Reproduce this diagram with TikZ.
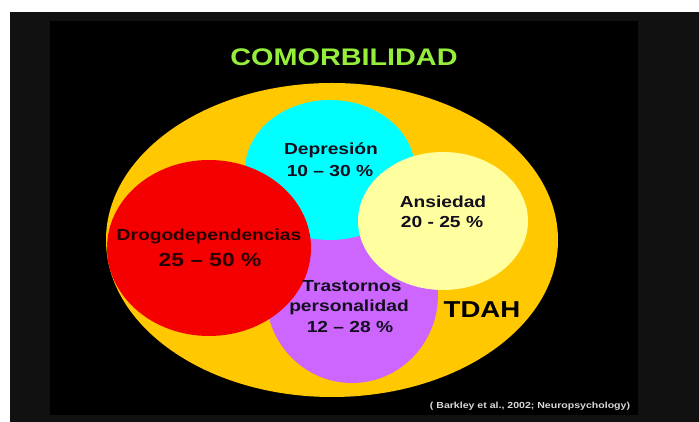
\documentclass[tikz,border=0pt]{standalone}
\usepackage{fontspec}
\setmainfont{Liberation Sans}
\usepackage{xcolor}
\usetikzlibrary{positioning}

\definecolor{framegray}{RGB}{17,17,17}
\definecolor{tdahyellow}{RGB}{255,200,0}
\definecolor{deprcyan}{RGB}{0,255,255}
\definecolor{drogored}{RGB}{245,0,0}
\definecolor{persviolet}{RGB}{204,102,255}
\definecolor{ansipale}{RGB}{255,255,160}
\definecolor{titlegreen}{RGB}{150,238,60}
\definecolor{darkink}{RGB}{20,14,30}

\begin{document}
\begin{tikzpicture}[x=1pt, y=1pt,
  lbl/.style={font=\bfseries\fontsize{16}{19}\selectfont, xscale=1.2, inner sep=0pt, text=darkink},
  big/.style={font=\bfseries\fontsize{24}{28}\selectfont, xscale=1.2, inner sep=0pt}]
% frame
\fill[white] (0,0) rectangle (699,422);
\fill[framegray] (10,0) rectangle (699,410);
\fill[black] (50,7) rectangle (638,401);

\node[big, text=titlegreen] (title) at (344,365) {COMORBILIDAD};

% TDAH
\fill[tdahyellow] (332,182) ellipse [x radius=226, y radius=157];

% comorbid disorders
\fill[persviolet] (352,127) ellipse [x radius=86, y radius=88];
\fill[deprcyan] (330,252) ellipse [x radius=85, y radius=70];
\fill[drogored] (209,174) ellipse [x radius=102, y radius=88];
\fill[ansipale] (443,201) ellipse [x radius=85, y radius=69];

% labels
\node[lbl] (depr) at (331,272) {Depresión};
\node[lbl] (deprval) at (330,251) {10 – 30 \%};
\node[lbl, text=black!85!red] (drogo) at (209,186) {Drogodependencias};
\node[lbl, text=black!85!red, font=\bfseries\fontsize{19}{22}\selectfont] (drogoval) at (210,162) {25 – 50 \%};
\node[lbl] (ansi) at (443,220) {Ansiedad};
\node[lbl] (ansival) at (442,200) {20 - 25 \%};
\node[lbl] (pers1) at (352,136) {Trastornos};
\node[lbl] (pers2) at (349,115) {personalidad};
\node[lbl] (persval) at (350,95) {12 – 28 \%};
\node[big, text=black, font=\bfseries\fontsize{23}{27}\selectfont] (tdah) at (482,112) {TDAH};

\node[lbl, text=white!85!black, font=\bfseries\fontsize{8.8}{10}\selectfont] (ref) at (530,16) {( Barkley et al., 2002; Neuropsychology)};
\end{tikzpicture}
\end{document}
